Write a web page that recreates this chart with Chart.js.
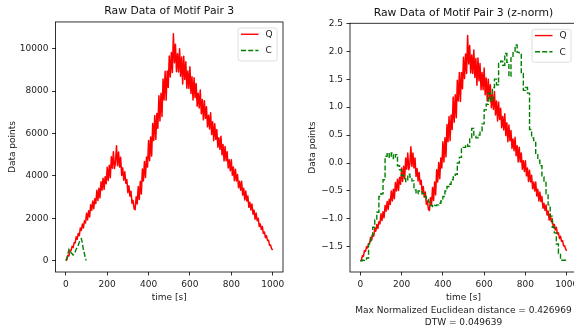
<!DOCTYPE html>
<html>
<head>
<meta charset="utf-8">
<script src="https://cdn.jsdelivr.net/npm/chart.js@4.4.1/dist/chart.umd.min.js"></script>
<style>
  html, body { margin: 0; padding: 0; background: #fff; }
  body { width: 574px; height: 331px; overflow: hidden; position: relative; }
  #rawChart { position: absolute; left: 0; top: 0; }
  #normChart { position: absolute; left: 290px; top: 0; }
</style>
</head>
<body>
<canvas id="rawChart" width="290" height="331"></canvas>
<canvas id="normChart" width="300" height="331"></canvas>
<script>
const qTime = [0, 5, 10, 15, 20, 25, 30, 35, 40, 45,
    50, 55, 60, 65, 70, 75, 80, 85, 90, 95,
    100, 105, 110, 115, 120, 125, 130, 135, 140, 145,
    150, 155, 160, 165, 170, 175, 180, 185, 190, 195,
    200, 205, 210, 215, 220, 225, 230, 235, 240, 245,
    250, 255, 260, 265, 270, 275, 280, 285, 290, 295,
    300, 305, 310, 315, 320, 325, 330, 335, 340, 345,
    350, 355, 360, 365, 370, 375, 380, 385, 390, 395,
    400, 405, 410, 415, 420, 425, 430, 435, 440, 445,
    450, 455, 460, 465, 470, 475, 480, 485, 490, 495,
    500, 505, 510, 515, 520, 525, 530, 535, 540, 545,
    550, 555, 560, 565, 570, 575, 580, 585, 590, 595,
    600, 605, 610, 615, 620, 625, 630, 635, 640, 645,
    650, 655, 660, 665, 670, 675, 680, 685, 690, 695,
    700, 705, 710, 715, 720, 725, 730, 735, 740, 745,
    750, 755, 760, 765, 770, 775, 780, 785, 790, 795,
    800, 805, 810, 815, 820, 825, 830, 835, 840, 845,
    850, 855, 860, 865, 870, 875, 880, 885, 890, 895,
    900, 905, 910, 915, 920, 925, 930, 935, 940, 945,
    950, 955, 960, 965, 970, 975, 980, 985, 990, 995,
    1000];

const qRaw = [0, 40, 250, 220, 480, 460, 670, 610, 840, 830,
    1120, 1000, 1280, 1170, 1540, 1420, 1730, 1540, 1880, 1770,
    2230, 1920, 2350, 2060, 2630, 2370, 2810, 2450, 2920, 2690,
    3320, 2840, 3410, 2960, 3720, 3320, 3890, 3360, 3960, 3630,
    4400, 3780, 4500, 3910, 4900, 4360, 5140, 4340, 4610, 5420,
    4480, 5120, 4410, 4880, 4020, 4380, 3790, 4190, 3650, 3820,
    3200, 3530, 3040, 3270, 2700, 2840, 2450, 2400, 3010, 2670,
    3490, 2880, 3740, 3140, 4320, 3760, 4680, 3920, 4890, 4410,
    5670, 4710, 5830, 4930, 6470, 5660, 6840, 5720, 6940, 6240,
    7780, 6590, 7890, 6800, 8570, 7580, 8930, 7570, 8940, 8170,
    9650, 8660, 9820, 8880, 10700, 9340, 10210, 8910, 9760, 8900,
    9990, 8700, 9610, 8330, 9640, 8550, 9380, 8130, 8940, 8120,
    9150, 7880, 8670, 7580, 8630, 7690, 8350, 7280, 7900, 7200,
    8050, 6930, 7600, 6640, 7540, 6710, 7260, 6310, 6860, 6210,
    6970, 5950, 6550, 5660, 6460, 5720, 6180, 5350, 5800, 5240,
    5870, 4990, 5480, 4700, 5380, 4710, 5130, 4370, 4760, 4240,
    4760, 4030, 4410, 3770, 4310, 3760, 4060, 3440, 3740, 3320,
    3740, 3090, 3410, 2860, 3280, 2810, 3050, 2510, 2750, 2390,
    2670, 2190, 2380, 1950, 2240, 1880, 2000, 1610, 1730, 1470,
    1610, 1280, 1350, 1080, 1180, 950, 960, 720, 730, 560,
    500];

const qNorm = [-1.75, -1.74, -1.66, -1.67, -1.57, -1.58, -1.50, -1.52, -1.44, -1.44,
    -1.33, -1.38, -1.27, -1.31, -1.17, -1.22, -1.10, -1.17, -1.05, -1.09,
    -0.91, -1.03, -0.87, -0.98, -0.76, -0.86, -0.69, -0.83, -0.65, -0.74,
    -0.50, -0.68, -0.47, -0.64, -0.35, -0.50, -0.29, -0.49, -0.26, -0.38,
    -0.09, -0.33, -0.06, -0.28, 0.09, -0.11, 0.18, -0.12, -0.02, 0.29,
    -0.06, 0.18, -0.09, 0.09, -0.24, -0.10, -0.32, -0.17, -0.38, -0.31,
    -0.55, -0.42, -0.61, -0.52, -0.74, -0.68, -0.83, -0.85, -0.62, -0.75,
    -0.44, -0.67, -0.34, -0.57, -0.12, -0.34, 0.01, -0.28, 0.09, -0.09,
    0.38, 0.02, 0.45, 0.11, 0.69, 0.38, 0.83, 0.40, 0.86, 0.60,
    1.18, 0.73, 1.22, 0.81, 1.48, 1.11, 1.62, 1.10, 1.62, 1.33,
    1.89, 1.51, 1.95, 1.60, 2.28, 1.77, 2.10, 1.61, 1.93, 1.60,
    2.02, 1.53, 1.87, 1.39, 1.88, 1.47, 1.78, 1.31, 1.62, 1.31,
    1.70, 1.22, 1.52, 1.11, 1.50, 1.15, 1.40, 0.99, 1.23, 0.96,
    1.28, 0.86, 1.11, 0.75, 1.09, 0.78, 0.98, 0.63, 0.83, 0.59,
    0.88, 0.49, 0.72, 0.38, 0.68, 0.40, 0.58, 0.26, 0.43, 0.22,
    0.46, 0.13, 0.31, 0.02, 0.28, 0.02, 0.18, -0.11, 0.04, -0.15,
    0.04, -0.23, -0.09, -0.33, -0.13, -0.34, -0.22, -0.46, -0.34, -0.50,
    -0.34, -0.59, -0.47, -0.68, -0.52, -0.69, -0.60, -0.81, -0.72, -0.85,
    -0.75, -0.93, -0.86, -1.02, -0.91, -1.05, -1.00, -1.15, -1.10, -1.20,
    -1.15, -1.27, -1.25, -1.35, -1.31, -1.40, -1.39, -1.48, -1.48, -1.54,
    -1.57];

// C after resampling to the length of Q and z-normalising, every 10 s
const cNormTime = [0, 10, 20, 30, 40, 50, 60, 70, 80, 90,
    100, 110, 120, 130, 140, 150, 160, 170, 180, 190,
    200, 210, 220, 230, 240, 250, 260, 270, 280, 290,
    300, 310, 320, 330, 340, 350, 360, 370, 380, 390,
    400, 410, 420, 430, 440, 450, 460, 470, 480, 490,
    500, 510, 520, 530, 540, 550, 560, 570, 580, 590,
    600, 610, 620, 630, 640, 650, 660, 670, 680, 690,
    700, 710, 720, 730, 740, 750, 760, 770, 780, 790,
    800, 810, 820, 830, 840, 850, 860, 870, 880, 890,
    900, 910, 920, 930, 940, 950, 960, 970, 980, 990, 1000];

const cNorm = [-1.75, -1.74, -1.72, -1.70, -1.45, -1.30, -1.15, -1.02, -0.88, -0.60,
    -0.55, -0.30, 0.12, 0.18, 0.10, 0.18, 0.08, 0.15, -0.05, -0.12,
    -0.22, -0.28, -0.33, -0.20, -0.25, -0.32, -0.48, -0.55, -0.50, -0.52,
    -0.55, -0.60, -0.65, -0.70, -0.76, -0.78, -0.76, -0.75, -0.72, -0.68,
    -0.60, -0.50, -0.42, -0.38, -0.30, -0.25, -0.20, 0.00, 0.10, 0.28,
    0.28, 0.33, 0.30, 0.45, 0.62, 0.48, 0.45, 0.50, 0.55, 0.70,
    0.95, 1.05, 1.25, 1.10, 1.35, 1.50, 1.40, 1.78, 1.82, 1.75,
    1.96, 1.80, 1.55, 1.88, 2.00, 2.11, 1.98, 1.97, 1.60, 1.30,
    1.35, 1.25, 0.60, 0.45, 0.40, 0.15, 0.05, -0.05, -0.25, -0.35,
    -0.55, -0.75, -0.95, -1.15, -1.25, -1.45, -1.62, -1.74, -1.74, -1.74, -1.74];

// C in raw units is a short series (about 100 samples)
const cRawTime = [0, 5, 10, 15, 20, 25, 30, 35, 40, 45, 50, 55, 60, 65, 70, 75, 80, 85, 90, 95, 99];
const cRaw = [0, 120, 320, 515, 410, 380, 320, 260, 310, 400, 540, 600, 720, 870, 990, 1030, 830, 510, 320, 80, 3];

const xTicks = [0, 200, 400, 600, 800, 1000];
const rawYTicks = [0, 2000, 4000, 6000, 8000, 10000];
const normYTicks = [-1.5, -1.0, -0.5, 0.0, 0.5, 1.0, 1.5, 2.0, 2.5];

Chart.defaults.font.family = "'DejaVu Sans', sans-serif";
Chart.defaults.color = '#222';

function points(xs, ys) {
    return xs.map((x, i) => ({ x: x, y: ys[i] }));
}

// matplotlib-like box around the axes plus the legend in the upper right corner
const frameAndLegend = {
    id: 'frameAndLegend',
    afterDraw(chart) {
        const ctx = chart.ctx;
        const a = chart.chartArea;
        ctx.save();
        ctx.strokeStyle = '#000';
        ctx.lineWidth = 0.8;
        ctx.strokeRect(a.left, a.top, a.right - a.left, a.bottom - a.top);

        const w = 39, h = 33;
        const bx = a.right - 6 - w;
        const by = a.top + 6;
        ctx.fillStyle = 'rgba(255,255,255,0.8)';
        ctx.strokeStyle = '#d6d6d6';
        ctx.lineWidth = 0.8;
        ctx.beginPath();
        ctx.roundRect(bx, by, w, h, 2.5);
        ctx.fill();
        ctx.stroke();

        ctx.lineWidth = 1.4;
        ctx.strokeStyle = '#ff0000';
        ctx.beginPath();
        ctx.moveTo(bx + 3, by + 6.3);
        ctx.lineTo(bx + 20.5, by + 6.3);
        ctx.stroke();

        ctx.strokeStyle = '#008000';
        ctx.setLineDash([5, 2.2]);
        ctx.beginPath();
        ctx.moveTo(bx + 3, by + 22.5);
        ctx.lineTo(bx + 20.5, by + 22.5);
        ctx.stroke();
        ctx.setLineDash([]);

        ctx.fillStyle = '#222';
        ctx.font = "9px 'DejaVu Sans'";
        ctx.textBaseline = 'middle';
        ctx.textAlign = 'left';
        ctx.fillText('Q', bx + 27.5, by + 6.8);
        ctx.fillText('C', bx + 27.5, by + 23);
        ctx.restore();
    }
};

const gridStyle = { drawOnChartArea: false, drawTicks: true, tickLength: 3.5, color: '#000', lineWidth: 0.8 };

const ctxRaw = document.getElementById('rawChart');
if (ctxRaw) {
    new Chart(ctxRaw, {
        type: 'line',
        data: {
            datasets: [{
                label: 'Q',
                data: points(qTime, qRaw),
                borderColor: '#ff0000',
                borderWidth: 1.5,
                borderJoinStyle: 'round',
                pointRadius: 0,
                order: 1
            }, {
                label: 'C',
                data: points(cRawTime, cRaw),
                borderColor: '#008000',
                borderWidth: 1.4,
                borderDash: [5, 2.2],
                pointRadius: 0,
                order: 0
            }]
        },
        options: {
            responsive: false,
            animation: false,
            devicePixelRatio: 1,
            layout: { padding: { left: 0, right: 7, top: 0, bottom: 0 } },
            plugins: {
                legend: { display: false },
                tooltip: { enabled: false },
                title: {
                    display: true,
                    text: 'Raw Data of Motif Pair 3',
                    fullSize: false,
                    color: '#111',
                    font: { size: 10.8, weight: 'normal' },
                    padding: { top: 5, bottom: 4 }
                }
            },
            scales: {
                x: {
                    type: 'linear',
                    min: -50,
                    max: 1050,
                    afterFit: s => { s.height = 59; },
                    afterBuildTicks: s => { s.ticks = xTicks.map(v => ({ value: v })); },
                    grid: gridStyle,
                    border: { display: false },
                    ticks: { font: { size: 9 }, padding: 3.5, maxRotation: 0, callback: v => String(v) },
                    title: { display: true, text: 'time [s]', font: { size: 9 }, padding: { top: 0, bottom: 28 } }
                },
                y: {
                    type: 'linear',
                    min: -540,
                    max: 11260,
                    afterFit: s => { s.width = 55.5; },
                    afterBuildTicks: s => { s.ticks = rawYTicks.map(v => ({ value: v })); },
                    grid: gridStyle,
                    border: { display: false },
                    ticks: { font: { size: 9 }, padding: 3.5, callback: v => String(v) },
                    title: { display: true, text: 'Data points', font: { size: 9 }, padding: { top: 6.8, bottom: 0 } }
                }
            }
        },
        plugins: [frameAndLegend]
    });
}

const ctxNorm = document.getElementById('normChart');
if (ctxNorm) {
    new Chart(ctxNorm, {
        type: 'line',
        data: {
            datasets: [{
                label: 'Q',
                data: points(qTime, qNorm),
                borderColor: '#ff0000',
                borderWidth: 1.5,
                borderJoinStyle: 'round',
                pointRadius: 0,
                order: 1
            }, {
                label: 'C',
                data: points(cNormTime, cNorm),
                borderColor: '#008000',
                borderWidth: 1.4,
                borderDash: [5, 2.2],
                stepped: true,
                pointRadius: 0,
                order: 0
            }]
        },
        options: {
            responsive: false,
            animation: false,
            devicePixelRatio: 1,
            layout: { padding: { left: 0, right: 13, top: 1.3, bottom: 0 } },
            plugins: {
                legend: { display: false },
                tooltip: { enabled: false },
                title: {
                    display: true,
                    text: 'Raw Data of Motif Pair 3 (z-norm)',
                    fullSize: false,
                    color: '#111',
                    font: { size: 10.8, weight: 'normal' },
                    padding: { top: 5, bottom: 4 }
                }
            },
            scales: {
                x: {
                    type: 'linear',
                    min: -50,
                    max: 1050,
                    afterFit: s => { s.height = 59; },
                    afterBuildTicks: s => { s.ticks = xTicks.map(v => ({ value: v })); },
                    grid: gridStyle,
                    border: { display: false },
                    ticks: { font: { size: 9 }, padding: 3.5, maxRotation: 0, callback: v => String(v) },
                    title: {
                        display: true,
                        text: ['time [s]', 'Max Normalized Euclidean distance = 0.426969', 'DTW = 0.049639'],
                        font: { size: 9, lineHeight: 1.39 },
                        padding: { top: 0, bottom: 1.8 }
                    }
                },
                y: {
                    type: 'linear',
                    min: -1.95,
                    max: 2.5,
                    afterFit: s => { s.width = 60; },
                    afterBuildTicks: s => { s.ticks = normYTicks.map(v => ({ value: v })); },
                    grid: gridStyle,
                    border: { display: false },
                    ticks: { font: { size: 9 }, padding: 3.5, callback: v => v.toFixed(1).replace('-', '\u2212') },
                    title: { display: true, text: 'Data points', font: { size: 9 }, padding: { top: 17.1, bottom: 0 } }
                }
            }
        },
        plugins: [frameAndLegend]
    });
}
</script>
</body>
</html>
